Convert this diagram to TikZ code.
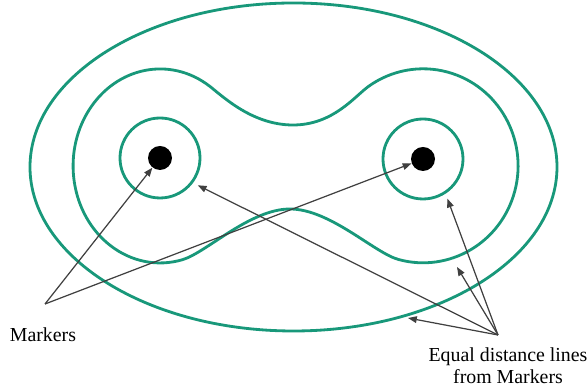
\documentclass[tikz,border=0pt]{standalone}
\usepackage{fontspec}
\setmainfont{Liberation Serif}
\usetikzlibrary{arrows.meta,positioning,calc}
\definecolor{isoteal}{RGB}{24,152,122}

\begin{document}
\begin{tikzpicture}[
    isoline/.style={draw=isoteal, line width=1.6pt},
    ring/.style={isoline, circle, minimum size=1.6cm, inner sep=0pt},
    marker/.style={circle, fill=black, minimum size=0.48cm, inner sep=0pt},
    pointer/.style={draw=black!75, line width=0.7pt, -{Triangle[length=5pt,width=3.8pt]}},
    lbl/.style={font=\fontsize{11.3}{12.5}\selectfont, align=center, inner sep=0pt}
]
    \useasboundingbox (0,0) rectangle (11.74,7.8);

    % Outer equal distance line
    \draw[isoline] (5.87,4.46) ellipse [x radius=5.27, y radius=3.28];

    % Middle equal distance line (joined round both markers)
    \draw[isoline] (5.86,5.30)
        .. controls (5.06,5.30) and (4.48,5.85) .. (4.20,6.07)
        arc[start angle=55, end angle=285, x radius=1.74, y radius=1.94]
        .. controls (4.13,2.75) and (5.00,3.62) .. (5.80,3.62)
        .. controls (6.60,3.62) and (7.49,2.74) .. (7.97,2.61)
        arc[start angle=-105, end angle=125, x radius=1.9, y radius=1.94]
        .. controls (7.09,5.87) and (6.66,5.30) .. (5.86,5.30) -- cycle;

    % Inner rings and markers
    \node[ring] (lc) at (3.2,4.64) {};
    \node[ring] (rc) at (8.46,4.62) {};
    \node[marker] (ldot) at (3.2,4.64) {};
    \node[marker] (rdot) at (8.46,4.62) {};

    % Points where arrows meet the outer lines
    \coordinate (pk) at (9.14,2.46);
    \coordinate (ok) at (8.16,1.44);

    % Labels
    \coordinate (mk) at (0.9,1.72);
    \coordinate (eq) at (9.96,1.1);
    \node[lbl] (mtxt) at (0.86,1.1) {Markers};
    \node[lbl] (etxt) at (10.16,0.48) {Equal distance lines\\from Markers};

    % Arrows
    \draw[pointer, shorten >=3pt] (eq) -- (lc.-37);
    \draw[pointer, shorten >=3pt] (eq) -- (rc.-57);
    \draw[pointer] (eq) -- (pk);
    \draw[pointer] (eq) -- (ok);
    \draw[pointer] (mk) -- (ldot);
    \draw[pointer] (mk) -- (rdot);

\end{tikzpicture}
\end{document}
